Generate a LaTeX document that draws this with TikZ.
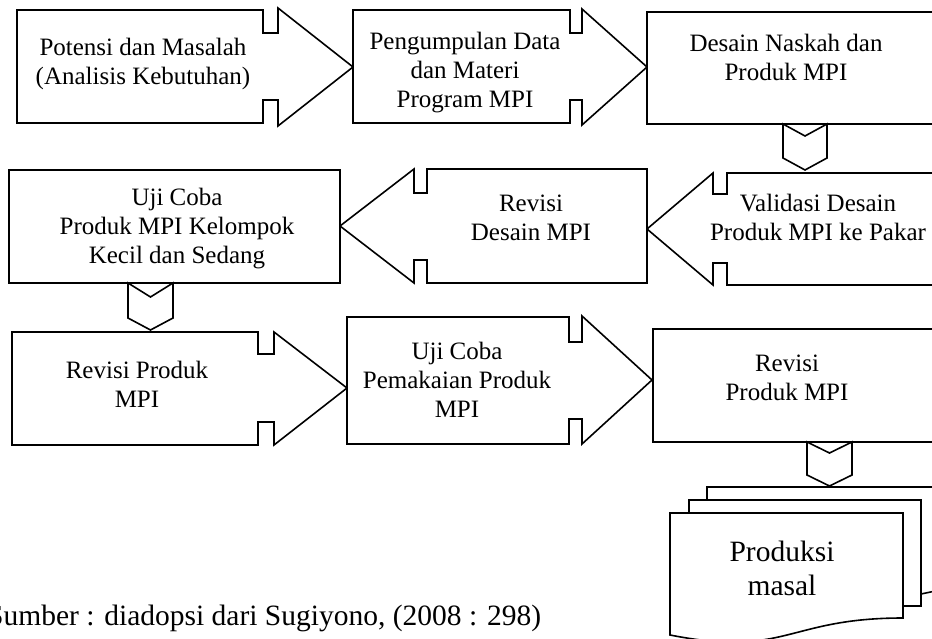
\documentclass[tikz,border=0pt]{standalone}
\usepackage{fontspec}
\setmainfont{Liberation Serif}
\begin{document}
\begin{tikzpicture}[x=1pt,y=-1pt]
\tikzset{
  outl/.style={draw, line width=1.6pt, line join=miter, fill=white},
  lbl/.style={font=\fontsize{25}{29}\selectfont, align=center, inner sep=0pt},
  biglbl/.style={font=\fontsize{29.5}{33.5}\selectfont, align=center, inner sep=0pt}
}
\useasboundingbox (0,0) rectangle (932,639);
\clip (0,0) rectangle (932,639);
\fill[white] (0,0) rectangle (932,639);

% Row 1
\draw[outl] (17,10) -- (263,10) -- (263,33) -- (278,33) -- (278,8) -- (353,67)
  -- (278,126) -- (278,100) -- (263,100) -- (263,123) -- (17,123) -- cycle;
\draw[outl] (353,10) -- (570,10) -- (570,33) -- (582,33) -- (582,9) -- (647,67)
  -- (582,125) -- (582,100) -- (570,100) -- (570,123) -- (353,123) -- cycle;
\draw[outl] (647,12) rectangle (945,124);
\draw[outl] (783,124) -- (805,136) -- (827,124) -- (827,158) -- (805,170) -- (783,158) -- cycle;

% Row 2
\draw[outl] (945,173) -- (727,173) -- (727,194) -- (713,194) -- (713,173) -- (647,229)
  -- (713,285) -- (713,263) -- (727,263) -- (727,285) -- (945,285);
\draw[outl] (647,169) -- (427,169) -- (427,193) -- (414,193) -- (414,169) -- (340,226)
  -- (414,283) -- (414,260) -- (427,260) -- (427,283) -- (647,283) -- cycle;
\draw[outl] (9,170) rectangle (340,283);
\draw[outl] (128,283) -- (150.5,297) -- (173,283) -- (173,318) -- (150.5,330) -- (128,318) -- cycle;

% Row 3
\draw[outl] (12,332) -- (258,332) -- (258,354) -- (274,354) -- (274,332) -- (347,388)
  -- (274,445) -- (274,422) -- (258,422) -- (258,445) -- (12,445) -- cycle;
\draw[outl] (347,317) -- (569,317) -- (569,342) -- (582,342) -- (582,316) -- (652,380)
  -- (582,444) -- (582,419) -- (569,419) -- (569,444) -- (347,444) -- cycle;
\draw[outl] (653,329) rectangle (945,442);
\draw[outl] (807,442) -- (829.5,453) -- (852,442) -- (852,475) -- (829.5,486) -- (807,475) -- cycle;

% Document stack
\draw[outl] (707,487) -- (945,487) -- (945,589) -- (921,594) -- (707,594) -- cycle;
\draw[outl] (689,500) rectangle (921,606);
\draw[outl] (670,513) -- (903,513) -- (903,618) .. controls (786.5,618) and (786.5,658) .. (670,635) -- cycle;

% Labels
\node[lbl] (t1) at (143,63.6) {Potensi dan Masalah\\(Analisis Kebutuhan)};
\node[lbl] (t2) at (465,72.2) {Pengumpulan Data\\dan Materi\\Program MPI};
\node[lbl] (t3) at (786,57.5) {Desain Naskah dan\\Produk MPI};
\node[lbl] (t4) at (818,217.5) {Validasi Desain\\Produk MPI ke Pakar};
\node[lbl] (t5) at (531,217.6) {Revisi\\Desain MPI};
\node[lbl] (t6) at (177,228.7) {Uji Coba\\Produk MPI Kelompok\\Kecil dan Sedang};
\node[lbl] (t7) at (137,384.3) {Revisi Produk\\MPI};
\node[lbl] (t8) at (457,380) {Uji Coba\\Pemakaian Produk\\MPI};
\node[lbl] (t9) at (787,377.6) {Revisi\\Produk MPI};
\node[biglbl] (t10) at (782,568.4) {Produksi\\masal};
\node[font=\fontsize{29.5}{33}\selectfont, inner sep=0pt, anchor=base west] (src) at (-13,625) {Sumber : diadopsi dari Sugiyono, (2008 : 298)};
\end{tikzpicture}
\end{document}
